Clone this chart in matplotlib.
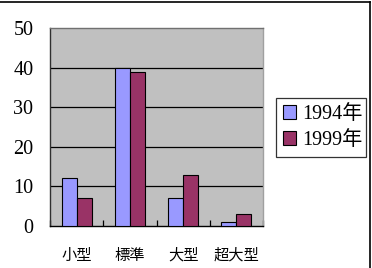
import numpy as np
import matplotlib
matplotlib.use('Agg')
import matplotlib.pyplot as plt
from matplotlib.lines import Line2D

# Daten
kategorien = ['小型', '標準', '大型', '超大型']
werte_1994 = [12, 40, 7, 1]
werte_1999 = [7, 39, 13, 3]
serien = ['1994年', '1999年']
y_ticks = [0, 10, 20, 30, 40, 50]

fig = plt.figure(figsize=(3.72, 2.68), dpi=100)
ax = fig.add_axes([50/372, 42/268, 213/372, 198/268])
ax.set_facecolor('#c0c0c0')

x = np.arange(len(kategorien))
b = 0.28
ax.bar(x - b/2, werte_1994, b, color='#9999ff', edgecolor='black', linewidth=0.8, label=serien[0], zorder=3)
ax.bar(x + b/2, werte_1999, b, color='#993366', edgecolor='black', linewidth=0.8, label=serien[1], zorder=3)

ax.set_xlim(-0.5, len(kategorien) - 0.5)
ax.set_ylim(0, 50)
ax.set_yticks(y_ticks)
ax.set_yticklabels([str(v) for v in y_ticks], family='Liberation Serif', fontsize=14.5)
ax.tick_params(axis='y', length=0, pad=12)

# Gitter
for v in y_ticks[1:-1]:
    ax.axhline(v, color='black', linewidth=0.9, zorder=1)

# x-Achse: Teilstriche zwischen Kategorien
ax.set_xticks(x)
ax.set_xticklabels(kategorien, family='Noto Sans CJK JP', fontsize=11)
ax.tick_params(axis='x', length=0, pad=15)
ax.set_xticks(np.arange(-0.5, len(kategorien)), minor=True)
ax.tick_params(axis='x', which='minor', direction='in', length=4, width=0.9, color='black')

ax.spines['left'].set_color('#303030')
ax.spines['bottom'].set_color('black')
ax.spines['top'].set_color('#707070')
ax.spines['right'].set_color('#a0a0a0')
for s in ax.spines.values():
    s.set_linewidth(1.0)

leg = fig.legend(loc='center', bbox_to_anchor=(276/372, 1 - 158/268, 90/372, 61/268),
                 mode='expand', frameon=True, fancybox=False, edgecolor='black',
                 prop={'family': ['Liberation Serif', 'Noto Sans CJK JP'], 'size': 14.5},
                 handlelength=0.65, handleheight=0.65, handletextpad=0.3,
                 borderpad=0.35, labelspacing=0.35, borderaxespad=0)
leg.get_frame().set_linewidth(0.9)

# Rahmen um die Grafik
fig.add_artist(Line2D([0, 370/372], [1 - 1.5/268, 1 - 1.5/268], color='black', linewidth=1.2, transform=fig.transFigure))
fig.add_artist(Line2D([370/372, 370/372], [0, 1 - 1.5/268], color='black', linewidth=1.2, transform=fig.transFigure))

fig.savefig('out.png', dpi=100)
